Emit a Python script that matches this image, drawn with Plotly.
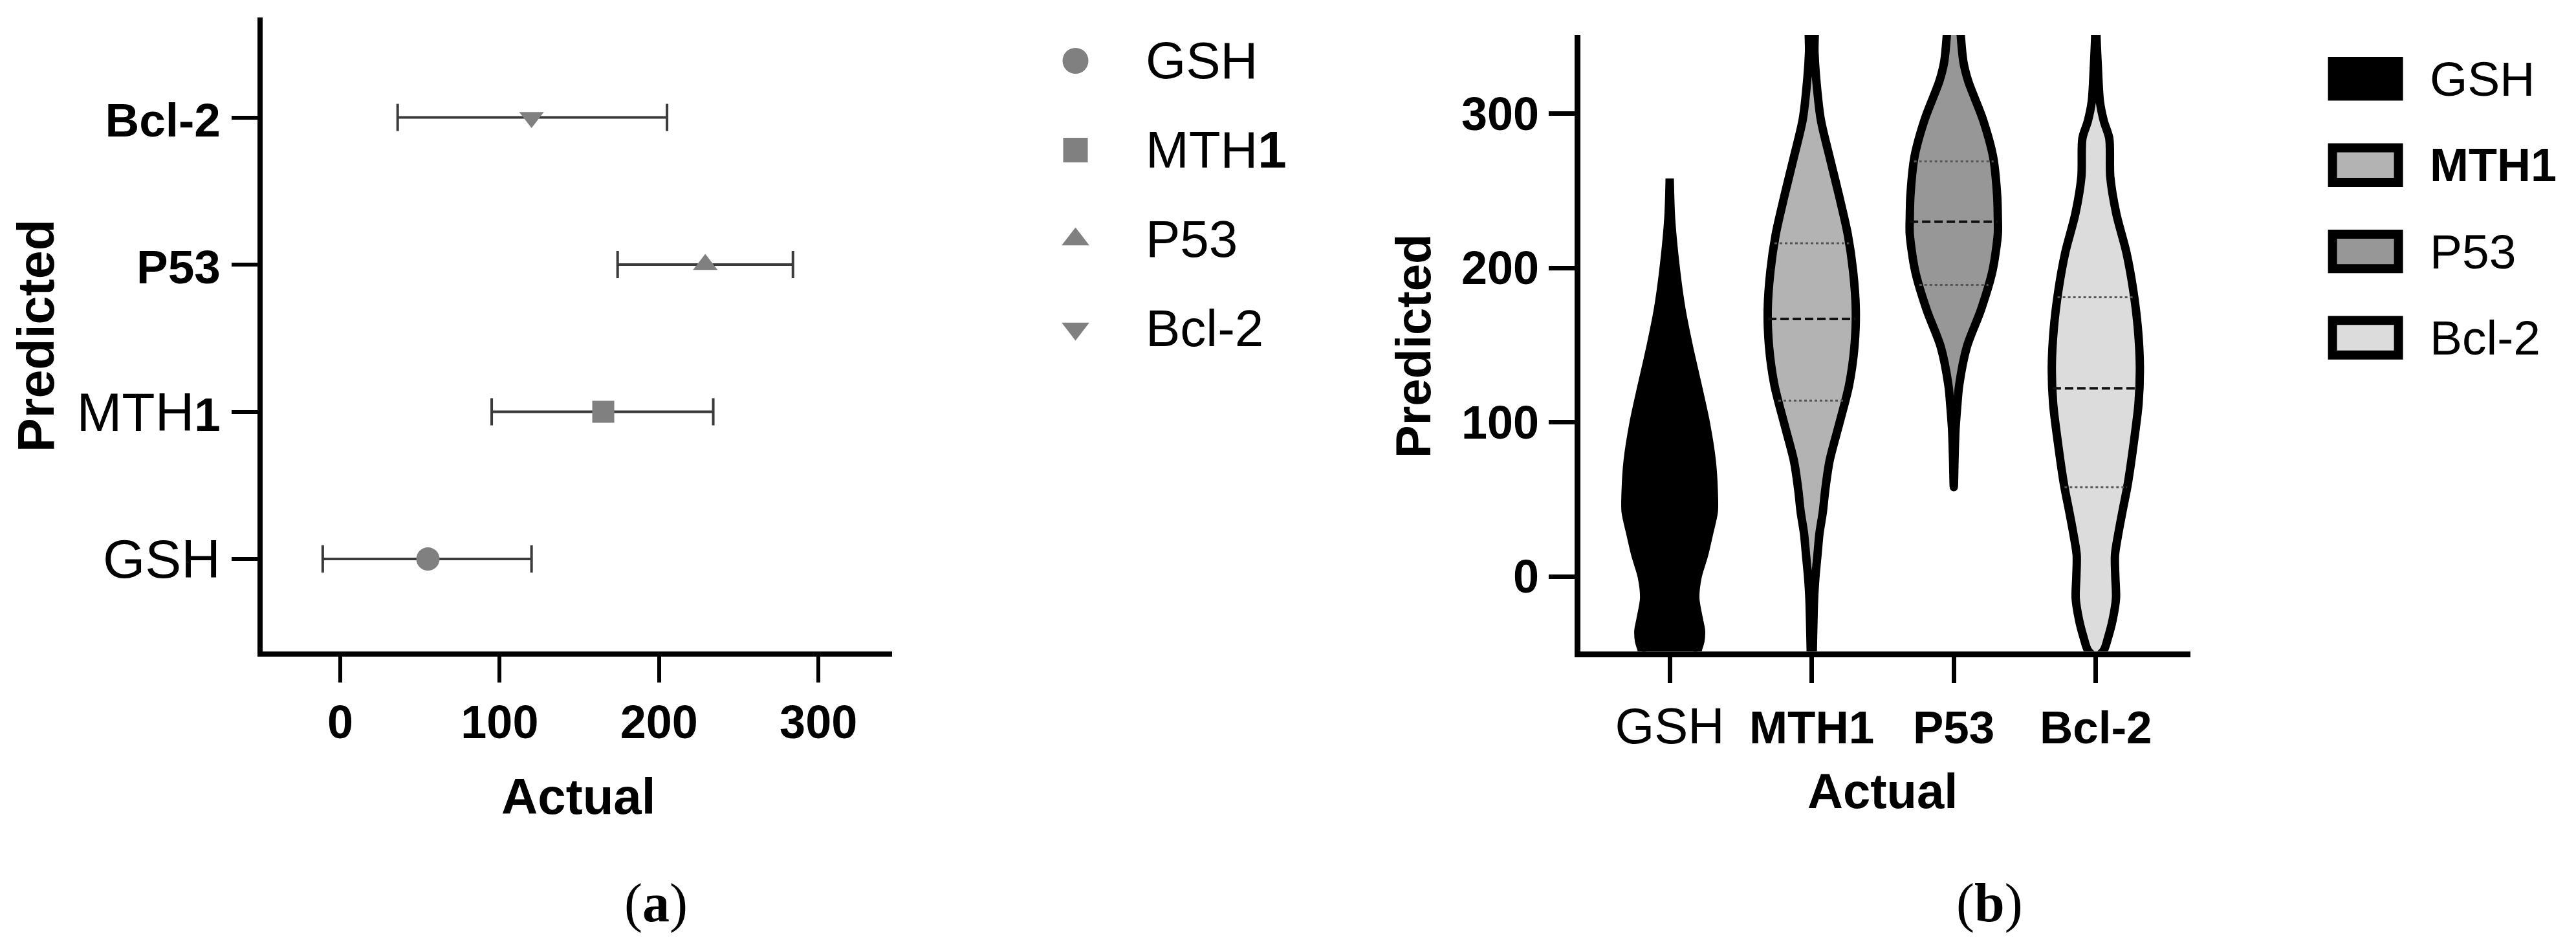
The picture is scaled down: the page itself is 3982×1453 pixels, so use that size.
import numpy as np
import plotly.graph_objects as go

W, H = 3982, 1453
FONT = "Liberation Sans, Arial, sans-serif"
SERIF = "Liberation Serif, Times New Roman, serif"

# ---------------- data ----------------
genes = ["GSH", "MTH1", "P53", "Bcl-2"]
BA = "<span style='font-size:73px'><b>{}</b></span>"   # bold label, panel a
BB = "<span style='font-size:71px'><b>{}</b></span>"   # bold label, panel b
a_tick_labels = ["GSH", "MTH" + BA.format("1"), BA.format("P53"), BA.format("Bcl-2")]
a_legend_labels = ["GSH", "MTH<b>1</b>", "P53", "Bcl-2"]
b_tick_labels = ["GSH", BB.format("MTH1"), BB.format("P53"), BB.format("Bcl-2")]
b_legend_labels = ["GSH", "<span style='font-size:72px'><b>MTH1</b></span>", "P53", "Bcl-2"]

# panel (a): mean and error range of Actual
actual_mean = [55, 165, 229, 120]
actual_low = [-11, 95, 174, 36]
actual_high = [120, 234, 284, 205]
a_x_ticks = [0, 100, 200, 300]

# panel (b): violin density profiles (Predicted level -> relative half-width)
gsh_levels = [-60, -48, -42, -35, -28, -14, 0, 14, 28, 42, 55, 75, 100, 124, 149, 173, 198, 232, 258]
gsh_density = [40, 41.5, 45.5, 46.5, 43.5, 38, 41.5, 51, 58.5, 65.5, 65.5, 62.5, 53.5, 41.5, 28.5, 17.5, 9.5, 2, 0]
mth1_levels = [-60, -14, 0, 14, 28, 42, 56, 75, 100, 124, 149, 173, 198, 222, 247, 272, 296, 323, 340, 370]
mth1_density = [1, 3.5, 5.5, 8.5, 11.5, 16.5, 20, 26.5, 41.5, 55.5, 63.5, 65.5, 61.5, 53.5, 40.5, 26.5, 13.5, 6.5, 4, 3]
p53_levels = [58, 75, 95, 110, 124, 149, 173, 198, 222, 232, 247, 272, 296, 321, 333, 350, 370]
p53_density = [0, 1, 2.5, 5, 8, 19.5, 40.5, 57.5, 65.5, 65.5, 64.5, 58.5, 43.5, 21.5, 14.5, 10.5, 8]
bcl2_levels = [-52, -48, -39, -28, -14, 0, 14, 28, 42, 60, 87, 112, 136, 161, 186, 210, 235, 259, 284, 295, 308, 330, 350, 370]
bcl2_density = [0, 11.5, 18.5, 25, 30, 29, 28.5, 33.5, 39.5, 47.5, 56.5, 63.5, 65.5, 62.5, 55.5, 45.5, 30.5, 21.5, 20, 12, 6, 3, 1, 1]

# quartiles (Q1, median, Q3); GSH lines are invisible on black fill
mth1_quartiles = [114, 167, 216]
p53_quartiles = [189, 230, 269]
bcl2_quartiles = [58, 122, 181]

b_y_ticks = [0, 100, 200, 300]

# ---------------- styles ----------------
marker_symbols = ["circle", "square", "triangle-up", "triangle-down"]
marker_sizes = [36, 34, 33, 33]
legend_marker_sizes = [40, 38, 37, 37]
violin_fill = ["#000000", "#b3b3b3", "#979797", "#dcdcdc"]
VIOLIN_HALF = 0.31


def px_x(v):
    return v / W


def px_y(v):
    return 1 - v / H


fig = go.Figure()

# ---------------- panel (a) ----------------
cat_idx = list(range(len(genes)))
for i, g in enumerate(genes):
    fig.add_trace(go.Scatter(
        x=[actual_mean[i]], y=[cat_idx[i]], mode="markers",
        marker=dict(symbol=marker_symbols[i], size=marker_sizes[i], color="#808080",
                    line=dict(width=0)),
        error_x=dict(type="data", symmetric=False,
                     array=[actual_high[i] - actual_mean[i]],
                     arrayminus=[actual_mean[i] - actual_low[i]],
                     color="#3a3a3a", thickness=4, width=21),
        xaxis="x", yaxis="y", showlegend=False, name=g, cliponaxis=False))

# ---------------- panel (b) ----------------
profiles = [(gsh_levels, gsh_density), (mth1_levels, mth1_density),
            (p53_levels, p53_density), (bcl2_levels, bcl2_density)]
quarts = [None, mth1_quartiles, p53_quartiles, bcl2_quartiles]

for i, g in enumerate(genes):
    lv, dn = profiles[i]
    lv = np.array(lv, float)
    dn = np.array(dn, float)
    hw = VIOLIN_HALF * dn / dn.max()
    xs = np.concatenate([i + hw, (i - hw)[::-1]])
    ys = np.concatenate([lv, lv[::-1]])
    fig.add_trace(go.Scatter(
        x=xs, y=ys, mode="lines", fill="toself", fillcolor=violin_fill[i],
        line=dict(color="#000000", width=13, shape="spline", smoothing=0.8),
        xaxis="x2", yaxis="y2", showlegend=False, name=g, hoverinfo="skip"))
    if quarts[i] is not None:
        for k, q in enumerate(quarts[i]):
            h = VIOLIN_HALF * np.interp(q, lv, dn) / dn.max()
            fig.add_trace(go.Scatter(
                x=[i - h, i + h], y=[q, q], mode="lines",
                line=dict(color="#111111" if k == 1 else "#555555",
                          width=4 if k == 1 else 3,
                          dash="13px,6px" if k == 1 else "4px,4px"),
                xaxis="x2", yaxis="y2", showlegend=False, hoverinfo="skip"))

# ---------------- legends (hidden axes) ----------------
n = len(genes)
leg_y = [n - 1 - i for i in range(n)]
for i, g in enumerate(genes):
    fig.add_trace(go.Scatter(
        x=[0], y=[leg_y[i]], mode="markers",
        marker=dict(symbol=marker_symbols[i], size=legend_marker_sizes[i], color="#808080",
                    line=dict(width=0)),
        xaxis="x3", yaxis="y3", showlegend=False, hoverinfo="skip", cliponaxis=False))

annotations = []
shapes = []
for i, g in enumerate(genes):
    annotations.append(dict(xref="x3", yref="y3", x=0, y=leg_y[i], xshift=106,
                            xanchor="left", yanchor="middle", showarrow=False,
                            text=a_legend_labels[i], font=dict(size=80, color="#000", family=FONT)))
    shapes.append(dict(type="rect", xref="x4", yref="y4", x0=-0.51, x1=0.51,
                       y0=leg_y[i] - 0.2, y1=leg_y[i] + 0.2,
                       line=dict(color="#000", width=14), fillcolor=violin_fill[i]))
    annotations.append(dict(xref="x4", yref="y4", x=0, y=leg_y[i], xshift=97,
                            xanchor="left", yanchor="middle", showarrow=False,
                            text=b_legend_labels[i], font=dict(size=75, color="#000", family=FONT)))

# axis titles and panel labels
annotations += [
    dict(xref="paper", yref="paper", x=px_x(47), y=px_y(511), text="<b>Predicted</b>",
         textangle=-90, showarrow=False, xanchor="center", yanchor="middle",
         font=dict(size=79, color="#000", family=FONT)),
    dict(xref="paper", yref="paper", x=px_x(886), y=px_y(1223), text="<b>Actual</b>",
         showarrow=False, xanchor="center", yanchor="middle",
         font=dict(size=78, color="#000", family=FONT)),
    dict(xref="paper", yref="paper", x=px_x(2176), y=px_y(527), text="<b>Predicted</b>",
         textangle=-90, showarrow=False, xanchor="center", yanchor="middle",
         font=dict(size=76, color="#000", family=FONT)),
    dict(xref="paper", yref="paper", x=px_x(2902), y=px_y(1214), text="<b>Actual</b>",
         showarrow=False, xanchor="center", yanchor="middle",
         font=dict(size=76, color="#000", family=FONT)),
    dict(xref="paper", yref="paper", x=px_x(1006), y=px_y(1388), text="(<b>a</b>)",
         showarrow=False, xanchor="center", yanchor="middle",
         font=dict(size=84, color="#000", family=SERIF)),
    dict(xref="paper", yref="paper", x=px_x(3067), y=px_y(1388), text="(<b>b</b>)",
         showarrow=False, xanchor="center", yanchor="middle",
         font=dict(size=84, color="#000", family=SERIF)),
]

axis_common = dict(showgrid=False, zeroline=False, showline=True, linecolor="#000",
                   ticks="outside", tickcolor="#000", ticklen=40, fixedrange=True)

hidden = dict(visible=False, showgrid=False, zeroline=False, fixedrange=True)

fig.update_layout(
    width=W, height=H, margin=dict(l=0, r=0, t=0, b=0),
    paper_bgcolor="#ffffff", plot_bgcolor="#ffffff", showlegend=False,
    font=dict(family=FONT, color="#000"),
    xaxis=dict(axis_common, domain=[px_x(397.75), px_x(1370.5)], range=[-48.8, 346],
               tickvals=a_x_ticks, linewidth=8, tickwidth=6,
               tickfont=dict(size=72, family=FONT, weight="bold", color="#000"),
               anchor="y"),
    yaxis=dict(axis_common, domain=[px_y(998.5), px_y(18.6)], range=[-0.626, 3.681],
               tickvals=cat_idx, ticktext=a_tick_labels, linewidth=8, tickwidth=6,
               tickfont=dict(size=84, family=FONT, color="#000"), anchor="x"),
    xaxis2=dict(axis_common, domain=[px_x(2434.5), px_x(3378)], range=[-0.631, 3.666],
                tickvals=cat_idx, ticktext=b_tick_labels, linewidth=9, tickwidth=7,
                tickfont=dict(size=78, family=FONT, color="#000"), anchor="y2"),
    yaxis2=dict(axis_common, domain=[px_y(998.5), px_y(46)], range=[-48.3, 351],
                tickvals=b_y_ticks, linewidth=9, tickwidth=7,
                tickfont=dict(size=72, family=FONT, weight="bold", color="#000"), anchor="x2"),
    xaxis3=dict(hidden, domain=[px_x(1554.5), px_x(1754.5)], range=[-1, 1], anchor="y3"),
    yaxis3=dict(hidden, domain=[px_y(569), px_y(17)], range=[-0.5, 3.5], anchor="x3"),
    xaxis4=dict(hidden, domain=[px_x(3548.6), px_x(3748.6)], range=[-1, 1], anchor="y4"),
    yaxis4=dict(hidden, domain=[px_y(580.7), px_y(47.1)], range=[-0.5, 3.5], anchor="x4"),
    annotations=annotations, shapes=shapes,
)

fig.write_html("out.html")
